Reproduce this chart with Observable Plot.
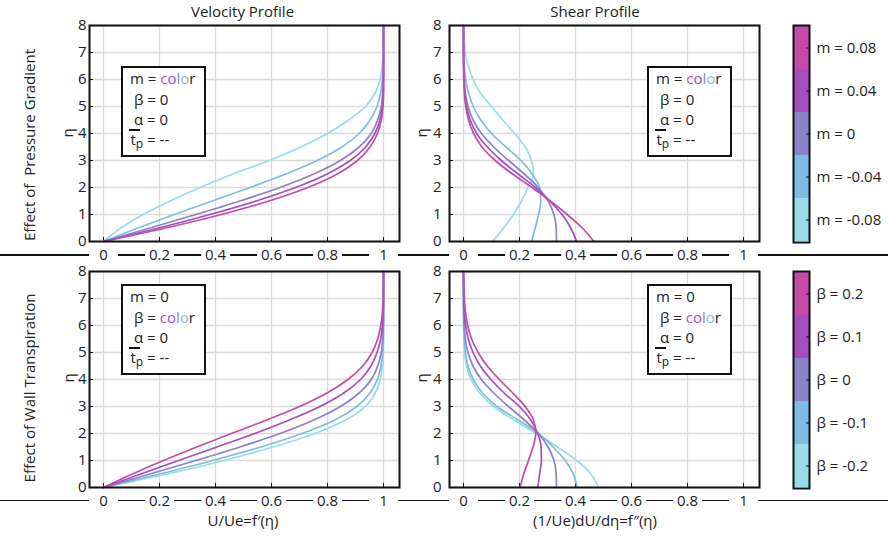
<!DOCTYPE html>
<html><head><meta charset="utf-8">
<script src="https://cdn.jsdelivr.net/npm/d3@7"></script>
<script src="https://cdn.jsdelivr.net/npm/@observablehq/plot@0.6"></script>
<style>
body{margin:0;background:#fff;}
#fig{position:relative;width:888px;height:537px;background:#fff;font-family:"Open Sans",sans-serif;color:#222;overflow:hidden;}
.hline{position:absolute;left:0;width:888px;height:1.6px;background:#111;}
.lbl{position:absolute;white-space:pre;transform:translate(-50%,-50%);font-size:15px;line-height:1;}
.rot{transform:translate(-50%,-50%) rotate(-90deg);}
.box{position:absolute;box-sizing:border-box;width:85px;height:91px;border:2px solid #111;background:#fff;}
.box div{position:absolute;white-space:nowrap;font-size:15px;line-height:20px;}
.box .bar{height:2px;width:11px;background:#111;}
.box sub{font-size:12px;vertical-align:-3px;line-height:0;}
</style></head><body><div id="fig"></div>
<script>
// ---------- data ----------
const eta = [0,0.5,1,1.5,2,2.5,3,3.5,4,4.5,5,5.5,6,6.5,7,8];
const xTicks = [0,0.2,0.4,0.6,0.8,1];
const yTicks = [0,1,2,3,4,5,6,7,8];
const mLabels = ["m = 0.08","m = 0.04","m = 0","m = -0.04","m = -0.08"];
const bLabels = ["β = 0.2","β = 0.1","β = 0","β = -0.1","β = -0.2"];
const palette = ["#C64BA9","#A54DBE","#8A82CB","#7DBDE0","#98DCE8"];

// velocity profiles, pressure gradient (m)
const uMp08 = [0,0.222,0.421,0.591,0.730,0.835,0.907,0.952,0.978,0.992,0.998,1,1,1,1,1];
const uMp04 = [0,0.197,0.380,0.545,0.686,0.799,0.881,0.936,0.969,0.987,0.996,0.999,1,1,1,1];
const uM0   = [0,0.166,0.330,0.487,0.630,0.751,0.846,0.913,0.956,0.979,0.992,0.997,0.999,1,1,1];
const uMn04 = [0,0.123,0.253,0.388,0.523,0.651,0.763,0.851,0.913,0.952,0.977,0.990,0.996,0.999,1,1];
const uMn08 = [0,0.062,0.142,0.238,0.345,0.462,0.592,0.705,0.800,0.876,0.935,0.970,0.988,0.995,0.999,1];
// shear profiles, pressure gradient (m)
const sMp08 = [0.466,0.424,0.370,0.310,0.245,0.175,0.113,0.066,0.036,0.018,0.008,0.003,0.001,0.0003,0,0];
const sMp04 = [0.404,0.383,0.352,0.307,0.257,0.195,0.135,0.085,0.047,0.024,0.011,0.005,0.002,0.0007,0.0002,0];
const sM0   = [0.332,0.331,0.323,0.302,0.267,0.217,0.161,0.108,0.064,0.034,0.016,0.0066,0.0024,0.0008,0.0002,0];
const sMn04 = [0.243,0.256,0.268,0.276,0.272,0.245,0.205,0.152,0.100,0.062,0.035,0.018,0.008,0.003,0.001,0];
const sMn08 = [0.104,0.143,0.178,0.207,0.230,0.250,0.243,0.220,0.183,0.140,0.100,0.060,0.034,0.017,0.006,0];
// velocity profiles, wall transpiration (beta)
const uBp2 = [0,0.103,0.214,0.333,0.457,0.583,0.700,0.798,0.873,0.926,0.959,0.979,0.990,0.996,0.999,1];
const uBp1 = [0,0.133,0.268,0.405,0.540,0.664,0.773,0.858,0.918,0.955,0.977,0.990,0.996,0.999,1,1];
const uB0  = [0,0.166,0.330,0.487,0.630,0.751,0.846,0.913,0.956,0.979,0.992,0.997,0.999,1,1,1];
const uBn1 = [0,0.200,0.390,0.562,0.709,0.826,0.905,0.952,0.978,0.991,0.997,0.999,1,1,1,1];
const uBn2 = [0,0.228,0.430,0.605,0.755,0.865,0.935,0.970,0.988,0.996,0.999,1,1,1,1,1];
// shear profiles, wall transpiration (beta)
const sBp2 = [0.202,0.215,0.232,0.248,0.258,0.250,0.220,0.176,0.128,0.085,0.052,0.029,0.015,0.007,0.003,0];
const sBp1 = [0.265,0.272,0.278,0.277,0.265,0.240,0.200,0.145,0.098,0.060,0.034,0.017,0.008,0.003,0.001,0];
const sB0  = [0.332,0.331,0.323,0.302,0.267,0.217,0.161,0.108,0.064,0.034,0.016,0.0066,0.0024,0.0008,0.0002,0];
const sBn1 = [0.406,0.392,0.363,0.320,0.268,0.195,0.120,0.068,0.035,0.016,0.007,0.003,0.001,0.0003,0,0];
const sBn2 = [0.483,0.455,0.405,0.335,0.260,0.180,0.108,0.058,0.027,0.011,0.004,0.0015,0.0005,0,0,0];

// ---------- helpers ----------
function rows(series, labels) {
  const out = [];
  for (let i = series.length - 1; i >= 0; i--)
    series[i].forEach((v, j) => out.push({s: labels[i], eta: eta[j], v}));
  return out;
}
const fig = document.getElementById("fig");
const FONT = '"Open Sans", sans-serif';

function place(el, left, top) {
  el.style.position = "absolute";
  el.style.left = left + "px";
  el.style.top = top + "px";
  fig.appendChild(el);
}

function panel(series, labels, left, top, yPad) {
  const fh = 216, fw = 310;
  const svg = Plot.plot({
    width: 430, height: 270,
    marginLeft: 89, marginRight: 31, marginTop: 25, marginBottom: 29,
    x: {domain: [-0.05, 1.057]},
    y: {domain: [0, 8]},
    color: {domain: labels, range: palette},
    style: {fontFamily: FONT, fontSize: "15px", color: "#222", background: "none", overflow: "visible"},
    marks: [
      Plot.gridX(xTicks, {stroke: "#dadada", strokeOpacity: 1, strokeWidth: 1.3}),
      Plot.gridY(yTicks, {stroke: "#dadada", strokeOpacity: 1, strokeWidth: 1.3}),
      Plot.tickX(xTicks, {x: d => d, insetTop: fh - 4, stroke: "#111"}),
      Plot.tickY(yTicks, {y: d => d, insetRight: fw - 4, stroke: "#111"}),
      Plot.axisX(xTicks, {tickSize: 0, tickPadding: 8, label: null, tickFormat: d => String(d)}),
      Plot.axisY(yTicks, {tickSize: 0, tickPadding: yPad, label: null}),
      Plot.line(rows(series, labels), {x: "v", y: "eta", z: "s", stroke: "s", curve: "monotone-y", strokeWidth: 1.7}),
      Plot.frame({stroke: "#111", strokeWidth: 2})
    ]
  });
  place(svg, left, top);
  // white boxes behind x tick labels (they break the long axis line)
  svg.querySelectorAll('g[aria-label="x-axis tick label"] text').forEach(t => {
    const b = t.getBBox();
    const r = document.createElementNS("http://www.w3.org/2000/svg", "rect");
    r.setAttribute("x", b.x + b.width / 2 - 14.5);
    r.setAttribute("y", b.y + b.height / 2 - 5);
    r.setAttribute("width", 29);
    r.setAttribute("height", 10);
    r.setAttribute("fill", "#fff");
    if (t.getAttribute("transform")) r.setAttribute("transform", t.getAttribute("transform"));
    t.parentNode.insertBefore(r, t);
  });
}

function colorbar(labels, left, top) {
  const svg = Plot.plot({
    width: 96, height: 219,
    marginLeft: 1, marginRight: 79, marginTop: 1, marginBottom: 1,
    x: {domain: [0, 1], axis: null},
    y: {type: "band", domain: labels, padding: 0, axis: null},
    color: {domain: labels, range: palette},
    style: {fontFamily: FONT, fontSize: "15px", color: "#222", background: "none", overflow: "visible"},
    marks: [
      Plot.barX(labels, {x: () => 1, y: d => d, fill: d => d}),
      Plot.tickY(labels, {y: d => d, insetLeft: 13, stroke: "#111"}),
      Plot.axisY(labels, {anchor: "right", tickSize: 0, tickPadding: 7, label: null}),
      Plot.frame({stroke: "#111", strokeWidth: 2})
    ]
  });
  place(svg, left, top);
}

function hline(y) {
  const d = document.createElement("div");
  d.className = "hline";
  d.style.top = (y - 0.8) + "px";
  fig.appendChild(d);
}

function label(text, cx, cy, rot) {
  const d = document.createElement("div");
  d.className = "lbl" + (rot ? " rot" : "");
  d.textContent = text;
  d.style.left = cx + "px";
  d.style.top = cy + "px";
  fig.appendChild(d);
}

const colorWord = `<span style="color:${palette[0]}">c</span><span style="color:${palette[1]}">o</span><span style="color:${palette[2]}">l</span><span style="color:${palette[3]}">o</span>r`;

function legendBox(left, top, mText, bText) {
  const d = document.createElement("div");
  d.className = "box";
  d.style.left = left + "px";
  d.style.top = top + "px";
  d.innerHTML =
    `<div style="left:7px;top:0px">m = ${mText}</div>` +
    `<div style="left:11px;top:21px">β = ${bText}</div>` +
    `<div style="left:11px;top:41px">α = 0</div>` +
    `<div class="bar" style="left:6px;top:61px"></div>` +
    `<div style="left:7.5px;top:61px">t<sub>p</sub> = --</div>`;
  fig.appendChild(d);
}

// ---------- layout ----------
hline(255);
hline(500.7);

panel([uMp08, uMp04, uM0, uMn04, uMn08], mLabels, 0, 0, 3);
panel([sMp08, sMp04, sM0, sMn04, sMn08], mLabels, 360, 0, 8);
panel([uBp2, uBp1, uB0, uBn1, uBn2], bLabels, 0, 246, 3);
panel([sBp2, sBp1, sB0, sBn1, sBn2], bLabels, 360, 246, 8);

colorbar(mLabels, 792, 24);
colorbar(bLabels, 792, 270);

legendBox(121, 66, colorWord, "0");
legendBox(647, 66, colorWord, "0");
legendBox(121, 284, "0", colorWord);
legendBox(647, 284, "0", colorWord);

label("Velocity Profile", 242.5, 10.5);
label("Shear Profile", 595, 10.5);
label("Effect of  Pressure Gradient", 29, 145, true);
label("Effect of Wall Transpiration", 29, 388, true);
label("η", 67, 133, true);
label("η", 421, 133, true);
label("η", 68, 378, true);
label("η", 421, 378, true);
label("U/Ue=f′(η)", 243, 520);
label("(1/Ue)dU/dη=f″(η)", 595, 520);
</script></body></html>
